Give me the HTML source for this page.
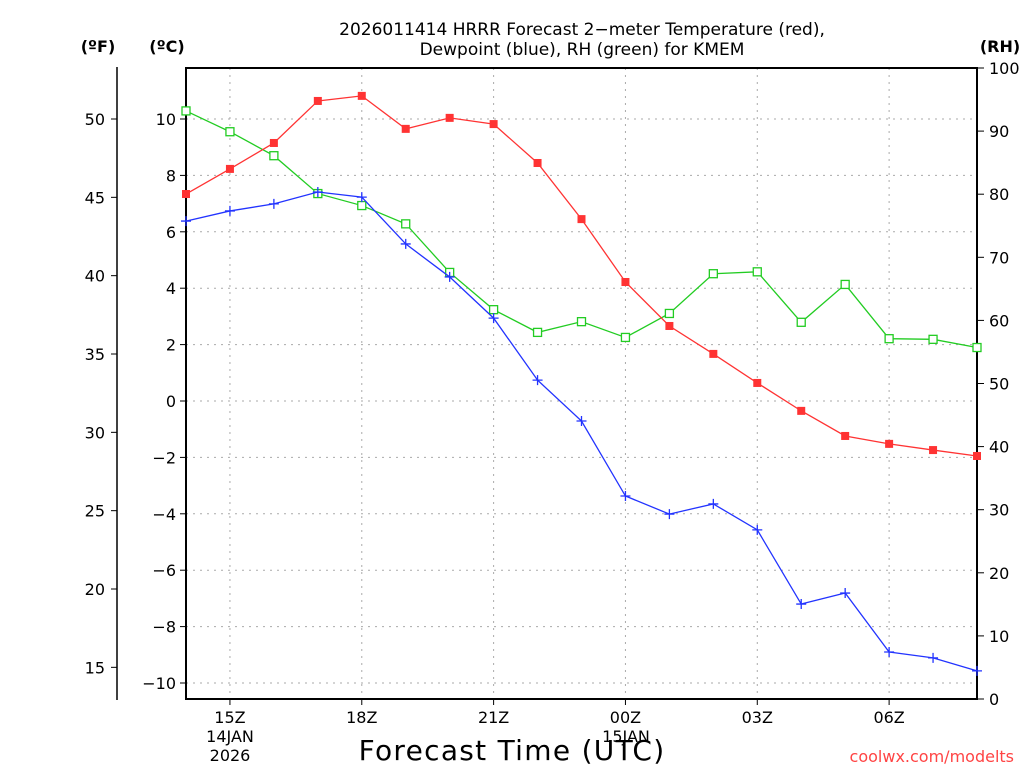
<!DOCTYPE html>
<html><head><meta charset="utf-8"><style>
body{margin:0;background:#fff;width:1024px;height:768px;overflow:hidden}
svg text{font-family:"DejaVu Sans","Liberation Sans",sans-serif}
</style></head><body>
<svg id="c" width="1024" height="768" viewBox="0 0 1024 768" xmlns="http://www.w3.org/2000/svg"></svg>
<script>
const hours=[0,1,2,3,4,5,6,7,8,9,10,11,12,13,14,15,16,17,18];
const tempC=[7.34,8.23,9.15,10.64,10.82,9.65,10.04,9.82,8.44,6.45,4.22,2.66,1.67,0.64,-0.35,-1.24,-1.52,-1.74,-1.95];
const dewC=[6.38,6.74,6.99,7.41,7.23,5.57,4.40,2.94,0.74,-0.71,-3.37,-4.01,-3.65,-4.57,-7.20,-6.81,-8.90,-9.11,-9.57];
const rh=[93.2,89.9,86.1,80.1,78.2,75.3,67.6,61.7,58.1,59.8,57.3,61.1,67.4,67.7,59.7,65.7,57.1,57.0,55.7];
const cTicks=[10,8,6,4,2,0,-2,-4,-6,-8,-10];
const fTicks=[50,45,40,35,30,25,20,15];
const rhTicks=[0,10,20,30,40,50,60,70,80,90,100];
const xTickHours=[1,4,7,10,13,16];
const xTickLabels=["15Z","18Z","21Z","00Z","03Z","06Z"];
const L=186,R=977,T=68,B=699;
const x=h=>L+h*(R-L)/18;
const yC=c=>401-c*28.2;
const yF=f=>yC((f-32)*5/9);
const yR=r=>B-r*(B-T)/100;
const svg=document.getElementById('c');
function add(tag,a,txt){const e=document.createElementNS('http://www.w3.org/2000/svg',tag);for(const k in a)e.setAttribute(k,a[k]);if(txt!==undefined)e.textContent=txt;svg.appendChild(e);return e;}
cTicks.forEach(c=>{const e=add('line',{x1:L,x2:R,y1:yC(c),y2:yC(c),stroke:'#aaa','stroke-dasharray':'2,5'});

});
xTickHours.forEach(h=>{const e=add('line',{x1:x(h),x2:x(h),y1:T,y2:B,stroke:'#aaa','stroke-dasharray':'2,5'});

});
let f=add('rect',{x:L,y:T,width:R-L,height:B-T,fill:'none',stroke:'#000','stroke-width':2});


cTicks.forEach(c=>{add('line',{x1:L-6,x2:L,y1:yC(c),y2:yC(c),stroke:'#000'});
const t=add('text',{x:L-10,y:yC(c)+6,'text-anchor':'end','font-size':16},(c<0?'\u2212':'')+Math.abs(c));

});
let fa=add('line',{x1:117,x2:117,y1:67,y2:700,stroke:'#000','stroke-width':1.5});


fTicks.forEach(v=>{add('line',{x1:111,x2:117,y1:yF(v),y2:yF(v),stroke:'#000'});
const t=add('text',{x:105,y:yF(v)+6,'text-anchor':'end','font-size':16},v);

});
rhTicks.forEach(v=>{add('line',{x1:R,x2:R+7,y1:yR(v),y2:yR(v),stroke:'#000'});
const t=add('text',{x:R+12,y:yR(v)+6,'font-size':16},v);

});
xTickHours.forEach((h,i)=>{add('line',{x1:x(h),x2:x(h),y1:B,y2:B+6,stroke:'#000'});
const t=add('text',{x:x(h),y:723,'text-anchor':'middle','font-size':16},xTickLabels[i]);

});
[["14JAN",742,230],["2026",761,230],["15JAN",742,626]].forEach(a=>{const t=add('text',{x:a[2],y:a[1],'text-anchor':'middle','font-size':16},a[0]);

});
function series(vals,yf,color,mk,name){
const pts=vals.map((v,i)=>x(hours[i])+','+yf(v)).join(' ');
const p=add('polyline',{points:pts,fill:'none',stroke:color,'stroke-width':1.3});


vals.forEach((v,i)=>{const cx=x(hours[i]),cy=yf(v);let m;
if(mk==='fs')m=add('rect',{x:cx-4,y:cy-4,width:8,height:8,fill:color});
else if(mk==='os')m=add('rect',{x:cx-4,y:cy-4,width:8,height:8,fill:'#fff',stroke:color,'stroke-width':1.3});
else m=add('path',{d:`M${cx-5},${cy}H${cx+5}M${cx},${cy-5}V${cy+5}`,stroke:color,'stroke-width':1.3});

});}
series(rh,yR,'#22cc22','os','rh');
series(dewC,yC,'#2233ff','plus','dewpoint');
series(tempC,yC,'#ff3333','fs','temperature');
[["2026011414 HRRR Forecast 2\u2212meter Temperature (red),",35],["Dewpoint (blue), RH (green) for KMEM",55]].forEach(a=>{const t=add('text',{x:582,y:a[1],'text-anchor':'middle','font-size':17},a[0]);

});
[["(\u00baF)",98],["(\u00baC)",167],["(RH)",1000]].forEach(a=>{const t=add('text',{x:a[1],y:52,'text-anchor':'middle','font-size':16,'font-weight':'bold'},a[0]);

});
let xt=add('text',{x:512,y:760,'text-anchor':'middle','font-size':28,'letter-spacing':1.3},'Forecast Time (UTC)');


let cr=add('text',{x:1014,y:762,'text-anchor':'end','font-size':16,fill:'#ff4444'},'coolwx.com/modelts');


</script>
</body></html>
